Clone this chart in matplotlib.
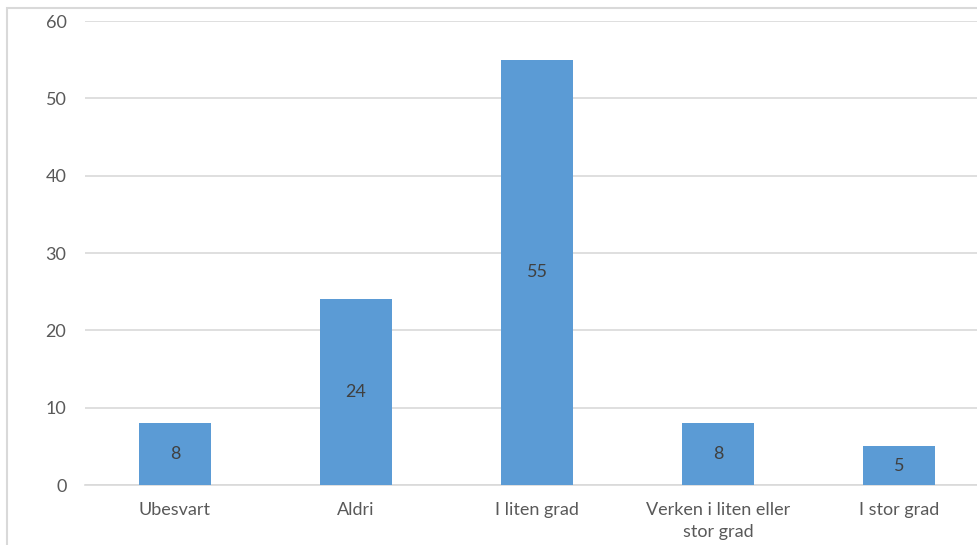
import numpy as np
import matplotlib.pyplot as plt
from matplotlib.patches import Rectangle

categories = ["Ubesvart", "Aldri", "I liten grad", "Verken i liten eller\nstor grad", "I stor grad"]
values = [8, 24, 55, 8, 5]
yticks = [0, 10, 20, 30, 40, 50, 60]

plt.rcParams["font.family"] = ["Lato", "DejaVu Sans"]
text_color = "#595959"
grid_color = "#D9D9D9"
bar_color = "#5B9BD5"

W, H = 977, 545
fig = plt.figure(figsize=(W / 100, H / 100), dpi=100)

# outer chart border (runs off the right and bottom edges)
fig.patches.append(Rectangle((7 / W, -0.1), 1.2, 1 - 8 / H + 0.1, transform=fig.transFigure,
                             fill=False, edgecolor=grid_color, linewidth=1.5))

ax = fig.add_axes([84.5 / W, 1 - 485 / H, 905 / W, 464 / H])
x = np.arange(len(categories))
bars = ax.bar(x, values, width=0.4, color=bar_color, zorder=3)

for b, v in zip(bars, values):
    ax.text(b.get_x() + b.get_width() / 2, v / 2, str(v), ha="center", va="center",
            fontsize=13, color="#404040", zorder=4)

ax.set_xlim(-0.5, len(categories) - 0.5)
ax.set_ylim(0, 60)
ax.set_yticks(yticks)
ax.set_xticks(x)
ax.set_xticklabels(categories, fontsize=13, color=text_color, linespacing=1.45)
ax.tick_params(axis="y", length=0, pad=13, labelsize=13, labelcolor=text_color)
ax.tick_params(axis="x", length=0, pad=12)

ax.grid(axis="y", color=grid_color, linewidth=1.2, zorder=0)
for side in ["top", "right", "left"]:
    ax.spines[side].set_visible(False)
ax.spines["bottom"].set_color(grid_color)
ax.spines["bottom"].set_linewidth(1.2)

fig.savefig("out.png", dpi=100)
